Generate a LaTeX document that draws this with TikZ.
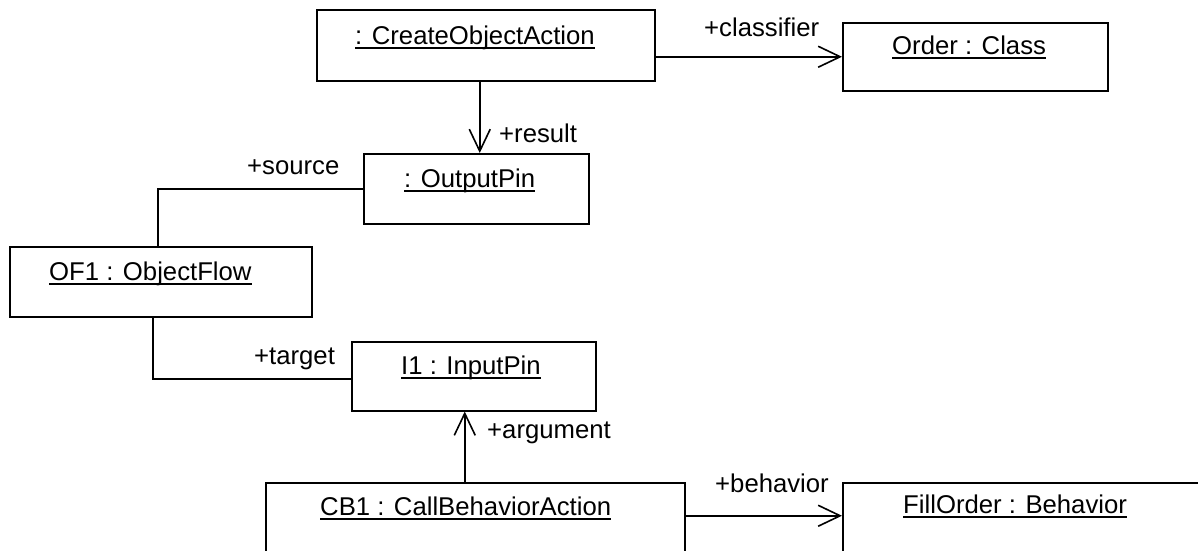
\documentclass[tikz,border=0pt]{standalone}
\usepackage{fontspec}
\setmainfont{Liberation Sans}
\usetikzlibrary{arrows.meta}

\begin{document}
\begin{tikzpicture}[x=1pt,y=-1pt,
  box/.style={draw, line width=1.5pt, rectangle, inner sep=0pt, anchor=north west},
  txt/.style={inner sep=0pt, anchor=base west, font=\fontsize{25.7}{30}\selectfont},
  uline/.style={line width=2.5pt},
  conn/.style={line width=1.6pt},
  navi/.style={conn, -{Straight Barb[length=22pt,width=21pt,line width=1.6pt]}},
]
\clip (0,0) rectangle (1198,550);
\fill[white] (0,0) rectangle (1198,550);

% object boxes
\node[box, minimum width=338pt, minimum height=71pt] (coa) at (316,9) {};
\node[box, minimum width=265pt, minimum height=68pt] (ord) at (842,22) {};
\node[box, minimum width=225pt, minimum height=70pt] (op) at (363,153) {};
\node[box, minimum width=302pt, minimum height=70pt] (of) at (9,246) {};
\node[box, minimum width=244pt, minimum height=69pt] (ip) at (351,341) {};
\node[box, minimum width=419pt, minimum height=98pt] (cb) at (265,482) {};
\node[box, minimum width=380pt, minimum height=98pt] (fo) at (842,482) {};

% object names
\node[txt] (tcoa) at (355,44) {: CreateObjectAction};
\node[txt] (tord) at (892,54) {Order : Class};
\node[txt] (top) at (404,187) {: OutputPin};
\node[txt] (tof) at (49,280) {OF1 : ObjectFlow};
\node[txt] (tip) at (401,374) {I1 : InputPin};
\node[txt] (tcb) at (320,515) {CB1 : CallBehaviorAction};
\node[txt] (tfo) at (903,513) {FillOrder : Behavior};
\foreach \n in {tcoa,tord,top,tof,tip,tcb,tfo}
  \draw[uline] ([yshift=-4pt]\n.base west) -- ([yshift=-4pt]\n.base east);

% links
\draw[navi] (coa.east |- ord.west) -- (ord.west);
\draw[navi] ([xshift=3.5pt]op.north |- coa.south) -- ([xshift=3.5pt]op.north);
\draw[conn] (op.west) -| ([xshift=-3pt]of.north);
\draw[conn] ([xshift=-8pt]of.south) |- ([yshift=-2.5pt]ip.west);
\draw[navi] ([xshift=-9pt]ip.south |- cb.north) -- ([xshift=-9pt]ip.south);
\draw[navi] ([yshift=16pt]cb.east) -- ([yshift=16pt]fo.west);

% role names
\node[txt] (rcls) at (704,36) {+classifier};
\node[txt] (rres) at (499,142) {+result};
\node[txt] (rsrc) at (247,174) {+source};
\node[txt] (rtgt) at (254,364) {+target};
\node[txt] (rarg) at (487,438) {+argument};
\node[txt] (rbeh) at (715,492) {+behavior};
\end{tikzpicture}
\end{document}
